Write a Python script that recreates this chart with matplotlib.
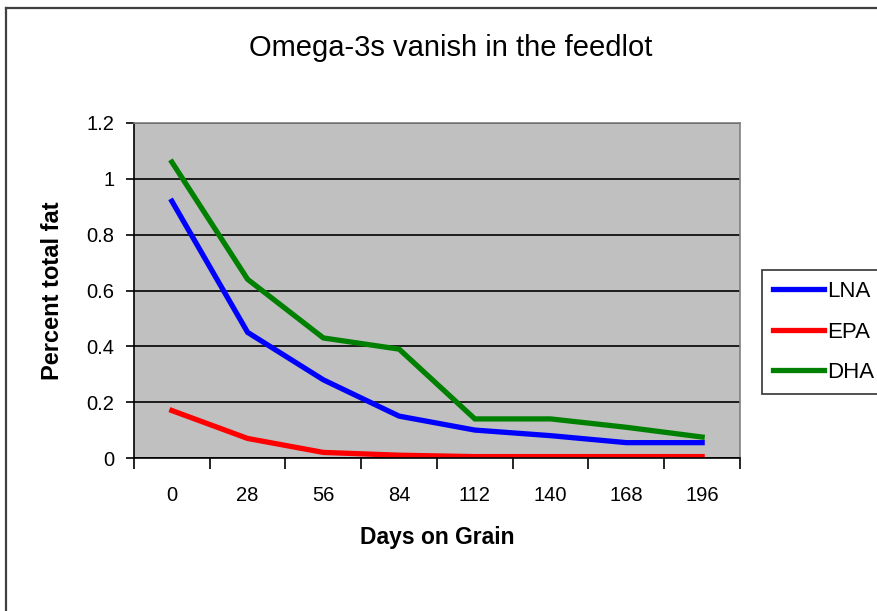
import matplotlib
matplotlib.use("Agg")
import matplotlib.pyplot as plt
from matplotlib.lines import Line2D

# ---------------------------------------------------------------- data
days = ["0", "28", "56", "84", "112", "140", "168", "196"]
lna = [0.92, 0.45, 0.28, 0.15, 0.10, 0.08, 0.055, 0.055]
epa = [0.17, 0.07, 0.02, 0.01, 0.005, 0.005, 0.005, 0.005]
dha = [1.06, 0.64, 0.43, 0.39, 0.14, 0.14, 0.11, 0.075]
series = [("LNA", lna, "#0000ff"), ("EPA", epa, "#ff0000"), ("DHA", dha, "#008000")]

W, H = 878, 611
plt.rcParams["font.family"] = ["Liberation Sans", "DejaVu Sans"]
fig = plt.figure(figsize=(W / 100, H / 100), dpi=100)

# plot area in pixel terms of the reference
left, right, top, bottom = 134, 740, 123, 458
ax = fig.add_axes([left / W, 1 - bottom / H, (right - left) / W, (bottom - top) / H])
ax.set_facecolor("#c0c0c0")

xs = list(range(len(days)))
for name, vals, col in series:
    ax.plot(xs, vals, color=col, lw=3.8, label=name, solid_joinstyle="miter")

ax.set_xlim(-0.5, len(days) - 0.5)
ax.set_ylim(0, 1.2)
ax.set_yticks([0, 0.2, 0.4, 0.6, 0.8, 1.0, 1.2])
ax.set_yticklabels(["0", "0.2", "0.4", "0.6", "0.8", "1", "1.2"], fontsize=14.5)
ax.yaxis.grid(True, color="black", lw=1.2)
ax.set_axisbelow(True)

# category axis: tick marks between categories, labels at the centres
ax.set_xticks([i - 0.5 for i in range(len(days) + 1)])
ax.set_xticklabels([])
ax.set_xticks(xs, minor=True)
ax.set_xticklabels(days, minor=True, fontsize=14.5)
ax.tick_params(axis="x", which="major", direction="out", length=8, width=1.2, color="black")
ax.tick_params(axis="x", which="minor", length=0, pad=20)
ax.tick_params(axis="y", direction="out", length=6, width=1.2, pad=8)

for s in ("top", "right"):
    ax.spines[s].set_color("#808080")
    ax.spines[s].set_linewidth(1.2)
for s in ("left", "bottom"):
    ax.spines[s].set_color("black")
    ax.spines[s].set_linewidth(1.2)

ax.set_xlabel("Days on Grain", fontsize=16.5, fontweight="bold", labelpad=15)
ax.set_ylabel("Percent total fat", fontsize=17, fontweight="bold", labelpad=16)
fig.text(451 / W, 1 - 48 / H, "Omega-3s vanish in the feedlot", fontsize=21,
         ha="center", va="center")

leg = fig.legend(loc="upper left", bbox_to_anchor=(762 / W, 1 - 270 / H),
                 fontsize=16, frameon=True, fancybox=False, borderpad=0.5,
                 handlelength=2.3, handletextpad=0.12, labelspacing=0.88,
                 borderaxespad=0)
leg.get_frame().set_edgecolor("black")
leg.get_frame().set_linewidth(1.2)

# outer chart border (left and top only visible in the crop)
fig.add_artist(Line2D([6 / W, 6 / W], [0, 1 - 8 / H], color="#404040", lw=1.6,
                      transform=fig.transFigure))
fig.add_artist(Line2D([6 / W, 1], [1 - 8 / H, 1 - 8 / H], color="#404040", lw=1.6,
                      transform=fig.transFigure))

fig.savefig("out.png", dpi=100)
